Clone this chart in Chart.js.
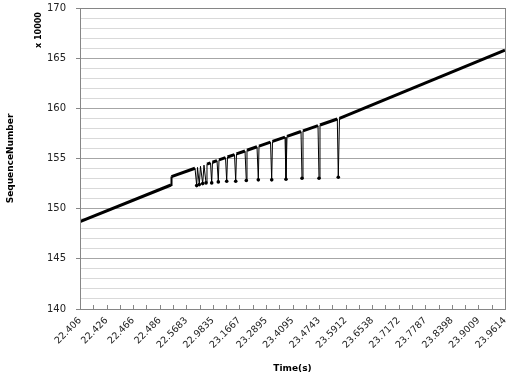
<!DOCTYPE html>
<html>
<head>
<meta charset="utf-8">
<script src="https://cdn.jsdelivr.net/npm/chart.js@4/dist/chart.umd.min.js"></script>
<style>
  html, body { margin: 0; padding: 0; background: #ffffff; }
  #wrap { width: 514px; height: 379px; }
</style>
</head>
<body>
<div id="wrap"><canvas id="c" width="514" height="379"></canvas></div>
<script>
// Category tick labels along the time axis (Time(s))
const timeLabels = ["22.406", "22.426", "22.466", "22.486", "22.5683", "22.9835", "23.1667", "23.2895",
  "23.4095", "23.4743", "23.5912", "23.6538", "23.7172", "23.7787", "23.8398", "23.9009", "23.9614"];

// Position of each vertex along the category axis (0 = first label, 16 = last label)
const samplePos = [0, 3.426, 3.445, 4.329, 4.393, 4.424, 4.491, 4.536, 4.619, 4.668,
  4.744, 4.781, 4.913, 4.958, 4.988, 5.158, 5.207, 5.233, 5.478, 5.523,
  5.553, 5.816, 5.862, 5.892, 6.212, 6.261, 6.287, 6.664, 6.713, 6.739,
  7.172, 7.217, 7.247, 7.718, 7.755, 7.793, 8.320, 8.358, 8.395, 8.960,
  8.998, 9.035, 9.687, 9.724, 9.769, 16];

// Sequence number (x 10000)
const seqNumber = [148.7, 152.36, 153.2, 154.03, 152.3, 154.11, 152.4, 154.22, 152.5, 154.34,
  152.57, 154.44, 154.56, 152.57, 154.63, 154.79, 152.67, 154.86, 155.08, 152.73,
  155.15, 155.39, 152.73, 155.46, 155.75, 152.8, 155.82, 156.17, 152.87, 156.24,
  156.63, 152.87, 156.70, 157.13, 152.93, 157.20, 157.69, 153.03, 157.75, 158.27,
  153.03, 158.34, 158.94, 153.13, 159.01, 165.8];

const yMin = 140, yMax = 170, yMajor = 5;

const points = samplePos.map((p, i) => ({ x: p, y: seqNumber[i] }));
const isDip = (i) => i > 0 && i < seqNumber.length - 1 &&
  seqNumber[i] < seqNumber[i - 1] && seqNumber[i] < seqNumber[i + 1];

const FONT = "'DejaVu Sans', Verdana, sans-serif";

const decor = {
  id: 'decor',
  afterDraw(chart) {
    const ctx = chart.ctx;
    const a = chart.chartArea;
    const xs = chart.scales.x;
    ctx.save();
    ctx.strokeStyle = '#868686';
    ctx.lineWidth = 1;
    // inside tick marks on the category axis
    ctx.beginPath();
    xs.ticks.forEach(t => {
      const px = Math.round(xs.getPixelForValue(t.value)) + 0.5;
      ctx.moveTo(px, Math.round(a.bottom));
      ctx.lineTo(px, Math.round(a.bottom) - 4);
    });
    ctx.stroke();
    // plot border
    ctx.strokeRect(Math.round(a.left) + 0.5, Math.round(a.top) + 0.5,
      Math.round(a.right - a.left), Math.round(a.bottom - a.top));
    // titles
    ctx.fillStyle = '#000';
    ctx.font = "bold 9px " + FONT;
    ctx.textAlign = 'center';
    ctx.textBaseline = 'alphabetic';
    ctx.fillText('Time(s)', (a.left + a.right) / 2, 371);
    ctx.save();
    ctx.translate(13, (a.top + a.bottom) / 2);
    ctx.rotate(-Math.PI / 2);
    ctx.fillText('SequenceNumber', 0, 0);
    ctx.restore();
    ctx.save();
    ctx.font = "bold 8px " + FONT;
    ctx.translate(41, 30);
    ctx.rotate(-Math.PI / 2);
    ctx.fillText('x 10000', 0, 0);
    ctx.restore();
    ctx.restore();
  }
};

new Chart(document.getElementById('c'), {
  type: 'line',
  data: {
    datasets: [{
      data: points,
      borderColor: '#000',
      backgroundColor: '#000',
      borderWidth: 3,
      tension: 0,
      pointRadius: (c) => isDip(c.dataIndex) ? 1.8 : 0,
      pointBackgroundColor: '#000',
      pointBorderWidth: 0,
      segment: {
        borderWidth: (c) => (isDip(c.p0DataIndex) || isDip(c.p1DataIndex)) ? 1 : (c.p0DataIndex === 1 ? 2 : 3)
      }
    }]
  },
  options: {
    responsive: false,
    animation: false,
    devicePixelRatio: 1,
    layout: { padding: { top: 8, right: 9, bottom: 0, left: 0 } },
    plugins: { legend: { display: false }, tooltip: { enabled: false } },
    scales: {
      x: {
        type: 'linear',
        min: 0,
        max: timeLabels.length - 1,
        afterFit(s) { s.height = 70; s.paddingLeft = 0; s.paddingRight = 0; },
        grid: { display: true, drawOnChartArea: false, drawTicks: false },
        border: { display: false },
        ticks: {
          stepSize: 0.5,
          autoSkip: false,
          maxRotation: 45,
          minRotation: 45,
          padding: 6,
          color: '#222',
          font: { family: FONT, size: 9.5 },
          callback: (v) => Number.isInteger(v) ? timeLabels[v] : ''
        }
      },
      y: {
        min: yMin,
        max: yMax,
        afterFit(s) { s.width = 80; s.paddingTop = 0; s.paddingBottom = 0; },
        grid: {
          color: (c) => (c.tick && c.tick.value % yMajor === 0) ? '#a6a6a6' : '#d9d9d9',
          tickColor: (c) => (c.tick && c.tick.value % yMajor === 0) ? '#868686' : 'rgba(0,0,0,0)',
          tickLength: 4,
          lineWidth: 1
        },
        border: { display: false },
        ticks: {
          stepSize: 1,
          autoSkip: false,
          padding: 10,
          color: '#222',
          font: { family: FONT, size: 10 },
          callback: (v) => v % yMajor === 0 ? String(v) : ''
        }
      }
    }
  },
  plugins: [decor]
});
</script>
</body>
</html>
